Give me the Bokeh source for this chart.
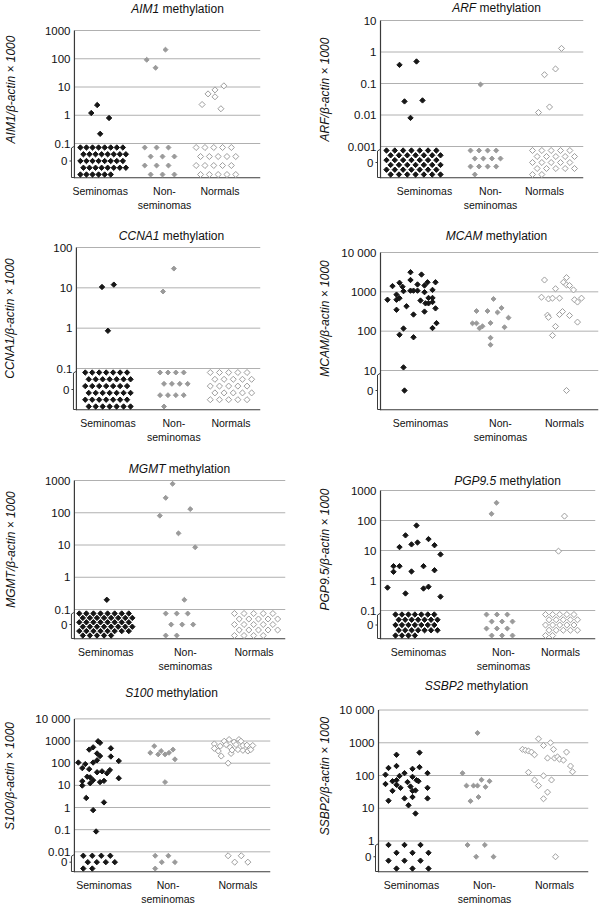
import math
from bokeh.plotting import figure
from bokeh.layouts import column, row
from bokeh.models import Range1d, FixedTicker, CustomJSTickFormatter, Label
from bokeh.embed import file_html
from bokeh.resources import INLINE

FONT = "Liberation Sans"
GROUPS = ["Seminomas", "Non-\nseminomas", "Normals"]

# ---------------- data (gene / beta-actin x 1000), 0 = unmethylated ----------------
AIM1_TICKS = ["1000", "100", "10", "1", "0.1"]
AIM1_SEM = [1.2, 2.3, 0.8, 0.22] + [0] * 38
AIM1_NON = [92, 48, 210] + [0] * 12
AIM1_NORM = [2.4, 5.7, 7.9, 4.5, 1.7, 11] + [0] * 20
AIM1_SEM_DX = [-9, -3, 9, 0]
AIM1_NON_DX = [-18, -9, 1]
AIM1_NORM_DX = [-18, -12, -5, -5, 1, 4]

ARF_TICKS = ["10", "1", "0.1", "0.01", "0.001"]
ARF_SEM = [0.39, 0.5, 0.027, 0.029, 0.0081] + [0] * 42
ARF_NON = [0.093] + [0] * 13
ARF_NORM = [0.012, 0.018, 0.19, 0.29, 1.3] + [0] * 22
ARF_SEM_DX = [-25, -8, -20, -2, -14]
ARF_NON_DX = [-10]
ARF_NORM_DX = [-6, 5, 0, 11, 17]

CCNA1_TICKS = ["100", "10", "1", "0.1"]
CCNA1_SEM = [10.5, 12, 0.86] + [0] * 42
CCNA1_NON = [8.1, 30] + [0] * 13
CCNA1_NORM = [0] * 25
CCNA1_SEM_DX = [-6, 6, 0]
CCNA1_NON_DX = [-11, 0]
CCNA1_NORM_DX = []

MCAM_TICKS = ["10 000", "1000", "100", "10"]
MCAM_SEM = [630, 1400, 850, 630, 350, 1700, 690, 1350, 1040, 81, 117, 430, 3150, 2000,
            1070, 1070, 265, 70, 1540, 1070, 600, 2750, 1450, 980, 315, 510, 1750, 700,
            510, 1120, 700, 550, 120, 1750, 380, 160, 12] + [0]
MCAM_NON = [158, 158, 325, 118, 133, 325, 162, 68, 45, 660, 300, 390, 126, 220]
MCAM_NORM = [730, 2000, 255, 660, 225, 690, 78, 1200, 132, 690, 265, 315, 1750, 2300,
             1500, 1450, 250, 1120, 630, 550, 170, 690] + [0]
MCAM_SEM_DX = [-33, -28, -24, -24, -24, -21, -21, -18, -17, -21, -17, -14, -10, -10, -10,
               -7, -7, -7, -3, -3, 0, 1, 4, 4, 4, 5, 7, 8, 8, 12, 12, 12, 12, 15, 15, 16, -17]
MCAM_NON_DX = [-28, -24, -24, -21, -18, -13, -10, -10, -10, -7, -3, 1, 4, 8]
MCAM_NORM_DX = [-23, -20, -17, -16, -16, -12, -12, -9, -9, -5, -5, -2, -1, 2, 2, 5, 5,
                9, 10, 13, 13, 17]

MGMT_TICKS = ["1000", "100", "10", "1", "0.1"]
MGMT_SEM = [0.2] + [0] * 45
MGMT_NON = [790, 290, 81, 130, 23, 8.5, 0.2] + [0] * 8
MGMT_NORM = [0] * 24
MGMT_SEM_DX = [1]
MGMT_NON_DX = [-13, -20, -26, 5, -7, 10, -1]
MGMT_NORM_DX = []

PGP_TICKS = ["1000", "100", "10", "1", "0.1"]
PGP_SEM = [0.58, 3.0, 1.95, 3.0, 13, 0.37, 32, 16, 2.0, 68, 18.5, 3.0, 0.54, 24, 0.62,
           15, 2.2, 7.4, 0.29] + [0] * 32
PGP_NON = [167, 390] + [0] * 12
PGP_NORM = [9.5, 140] + [0] * 22
PGP_SEM_DX = [-31, -25, -25, -19, -19, -13, -13, -7, -7, -2, -1, 5, 5, 10, 10, 16, 16, 22, 22]
PGP_NON_DX = [-12, -7]
PGP_NORM_DX = [-2, 4]

S100_TICKS = ["10 000", "1000", "100", "10", "1", "0.1", "0.01"]
S100_SEM = [107, 60, 15.5, 9.8, 91, 2.7, 24.5, 410, 54, 23, 12.5, 520, 107, 17, 0.76,
            0.083, 135, 39, 275, 980, 830, 210, 14, 43, 16, 1.7, 35, 49, 470, 200, 126,
            21] + [0] * 10
S100_NON = [590, 295, 250, 355, 250, 295, 410, 150, 14] + [0] * 5
S100_NORM = [740, 465, 355, 590, 210, 980, 690, 1170, 520, 275, 390, 890, 690, 410, 1170,
             980, 380, 630, 650, 355, 410, 630, 100] + [0] * 4
S100_SEM_DX = [-26, -22, -22, -22, -19, -18, -17, -15, -15, -14, -14, -11, -11, -11, -11,
               -8, -7, -7, -7, -6, -4, -4, -4, -2, 0, 0, 3, 6, 7, 7, 15, 15]
S100_NON_DX = [-14, -18, -10, -7, -3, 1, 5, 7, -3]
S100_NORM_DX = [-24, -24, -20, -18, -17, -14, -12, -9, -8, -7, -6, -4, -2, 0, 1, 3, 5, 5,
                9, 10, 13, 15, -10]

SSBP2_TICKS = ["10 000", "1000", "100", "10", "1"]
SSBP2_SEM = [106, 55, 170, 17, 67, 34, 195, 430, 72, 52, 97, 42, 118, 20, 63, 12.3, 46,
             160, 91, 34, 22, 6.9, 35, 72, 67, 500, 180, 118, 42, 20] + [0] * 12
SSBP2_NON = [118, 49, 16.5, 49, 49, 22, 74, 45, 67, 2000] + [0] * 4
SSBP2_NORM = [630, 590, 560, 520, 430, 125, 73, 1320, 49, 830, 98, 19.5, 340, 31, 1000,
              73, 630, 340, 370, 315, 295, 520, 195, 130] + [0]
SSBP2_SEM_DX = [-26, -26, -23, -23, -19, -19, -15, -15, -15, -15, -12, -11, -7, -7, -4, -3,
                -1, 1, 1, 1, 1, 4, 4, 5, 7, 8, 8, 16, 16, 16]
SSBP2_NON_DX = [-22, -18, -14, -11, -7, -6, -3, 1, 5, -7]
SSBP2_NORM_DX = [-32, -29, -26, -23, -20, -26, -20, -16, -16, -11, -11, -11, -7, -7, -4,
                 -3, -1, 0, 3, 5, 9, 12, 16, 18]

PANELS = [
    ("AIM1", AIM1_TICKS, (AIM1_SEM, AIM1_NON, AIM1_NORM), (AIM1_SEM_DX, AIM1_NON_DX, AIM1_NORM_DX)),
    ("ARF", ARF_TICKS, (ARF_SEM, ARF_NON, ARF_NORM), (ARF_SEM_DX, ARF_NON_DX, ARF_NORM_DX)),
    ("CCNA1", CCNA1_TICKS, (CCNA1_SEM, CCNA1_NON, CCNA1_NORM), (CCNA1_SEM_DX, CCNA1_NON_DX, CCNA1_NORM_DX)),
    ("MCAM", MCAM_TICKS, (MCAM_SEM, MCAM_NON, MCAM_NORM), (MCAM_SEM_DX, MCAM_NON_DX, MCAM_NORM_DX)),
    ("MGMT", MGMT_TICKS, (MGMT_SEM, MGMT_NON, MGMT_NORM), (MGMT_SEM_DX, MGMT_NON_DX, MGMT_NORM_DX)),
    ("PGP9.5", PGP_TICKS, (PGP_SEM, PGP_NON, PGP_NORM), (PGP_SEM_DX, PGP_NON_DX, PGP_NORM_DX)),
    ("S100", S100_TICKS, (S100_SEM, S100_NON, S100_NORM), (S100_SEM_DX, S100_NON_DX, S100_NORM_DX)),
    ("SSBP2", SSBP2_TICKS, (SSBP2_SEM, SSBP2_NON, SSBP2_NORM), (SSBP2_SEM_DX, SSBP2_NON_DX, SSBP2_NORM_DX)),
]

# ---------------- layout (page pixels) ----------------
COL_X = [0, 300]
FIG_W = 300
ROW_Y = [0, 220, 445, 675]
ROW_H = [220, 225, 230, 232]
AXPAD = 6  # frame starts this many px left of the drawn y axis line
LAYOUT = {
    # frame: axis x, right, top-tick y, lowest-tick y, bottom ; title centre ; y-label centre x
    "AIM1": dict(c=0, r=0, frame=(72, 260, 30, 143, 178), title=(175, 8), ylab_x=11,
                 cats=(98, 163, 219), zero=[(3, 23, 5), (-5, 15, 4), (-4, 20, 4)]),
    "ARF": dict(c=1, r=0, frame=(380, 583, 20, 146, 178), title=(496, 7), ylab_x=327,
                cats=(424, 490, 544), zero=[(-11, 27, 6), (-5, 15, 4), (9, 21, 5)]),
    "CCNA1": dict(c=0, r=1, frame=(73, 260, 247, 368, 410), title=(168, 235), ylab_x=9,
                  cats=(105, 172, 230), zero=[(0, 23, 6), (0, 14, 4), (0, 21, 6)]),
    "MCAM": dict(c=1, r=1, frame=(380, 598, 252, 370, 410), title=(496, 235), ylab_x=327,
                 cats=(420, 500, 564), zero=[(-16, 0, 1), (0, 0, 1), (2, 0, 1)]),
    "MGMT": dict(c=0, r=2, frame=(70, 285, 480, 609, 639), title=(175, 468), ylab_x=9,
                 cats=(102, 183, 253), zero=[(0, 27, 6), (-6, 14, 3), (2, 22, 5)]),
    "PGP9.5": dict(c=1, r=2, frame=(380, 595, 490, 610, 639), title=(507, 480), ylab_x=327,
                   cats=(418, 503, 560), zero=[(-2, 21, 5), (-4, 13, 4), (1, 16, 5)]),
    "S100": dict(c=0, r=3, frame=(71, 270, 719, 854, 875), title=(168, 695), ylab_x=9,
                 cats=(101, 166, 237), zero=[(-5, 16, 3), (-3, 10, 3), (0, 10, 3)]),
    "SSBP2": dict(c=1, r=3, frame=(378, 588, 710, 843, 875), title=(476, 688), ylab_x=327,
                  cats=(411, 484, 554), zero=[(-3, 20, 4), (-4, 13, 3), (1, 0, 1)]),
}
# plots in one row share their top border: the frame top is set by the higher title
ROW_FTOP = {}
for _g, _L in LAYOUT.items():
    _t = max(ROW_Y[_L["r"]], _L["title"][1] - 9)
    ROW_FTOP[_L["r"]] = min(ROW_FTOP.get(_L["r"], _t), _t)

STYLES = [
    dict(fill_color="#161616", line_color="#161616", size=3.8),
    dict(fill_color="#9a9a9a", line_color="#9a9a9a", size=3.5),
    dict(fill_color="white", line_color="#9d9d9d", size=4.3),
]
GRID_COLOR = "#b0b0b0"
AXIS_COLOR = "#3a3a3a"

W = {'A': 667, 'I': 278, 'M': 833, '1': 556, 'R': 722, 'F': 611, 'C': 722, 'N': 722,
     'G': 778, 'T': 611, 'P': 667, '9': 556, '.': 278, '5': 556, 'S': 667, '0': 556,
     'B': 667, '2': 556, '/': 278, 'β': 575, '-': 333, 'a': 556, 'c': 500, 't': 278,
     'i': 222, 'n': 556, ' ': 278, '×': 584, 'm': 833, 'e': 556, 'h': 556, 'y': 500,
     'l': 222, 'o': 556}


def tw(s, size):
    return sum(W.get(ch, 556) for ch in s) * size / 1000.0


def zero_xy(n, cx, hw, rows, y_top, y_bot):
    xs, ys = [], []
    if n == 0:
        return xs, ys
    rows = max(1, min(rows, n))
    cols = math.ceil(n / rows)
    step = (2 * hw) / (cols - 0.5) if cols > 1 else 0
    k = 0
    for r in range(rows):
        yy = (y_top + y_bot) / 2 if rows == 1 else y_top - r * (y_top - y_bot) / (rows - 1)
        shift = 0.5 if r % 2 else 0.0
        for c in range(cols):
            if k >= n:
                break
            xs.append(cx - hw + (c + shift) * step if cols > 1 else cx)
            ys.append(yy)
            k += 1
    return xs, ys


def make_panel(gene, tick_labels, groups, jitters):
    L = LAYOUT[gene]
    axx, fr, ft, flow, fb = L["frame"]
    tx, ty = L["title"]
    fx0, fy0 = COL_X[L["c"]], ROW_Y[L["r"]]
    fh = ROW_H[L["r"]]
    fl = axx - AXPAD
    ftop = ROW_FTOP[L["r"]]
    tick_vals = [float(t.replace(" ", "")) for t in tick_labels]
    lt, ll = math.log10(tick_vals[0]), math.log10(tick_vals[-1])
    ppd = (flow - ft) / (lt - ll)
    y_end = lt + (ft - ftop) / ppd
    y_start = ll - (fb - flow) / ppd
    y_zero = (ll + y_start) / 2
    width = fr - fl
    px = 1.0 / ppd  # one pixel in y data units

    p = figure(width=FIG_W, height=fh, output_backend="svg", toolbar_location=None,
               tools="", x_range=Range1d(0, width), y_range=Range1d(y_start, y_end),
               min_border_left=fl - fx0, min_border_right=fx0 + FIG_W - fr,
               min_border_top=ftop - fy0, min_border_bottom=fy0 + fh - fb)
    p.outline_line_color = None
    p.background_fill_color = "white"
    p.border_fill_color = "white"
    p.grid.grid_line_color = None

    # y axis (ticks / labels from Bokeh, line drawn at AXPAD inside the frame)
    yt = [math.log10(v) for v in tick_vals] + [y_zero]
    yl = list(tick_labels) + ["0\u00a0"]
    p.yaxis.ticker = FixedTicker(ticks=yt)
    p.yaxis.formatter = CustomJSTickFormatter(args=dict(vals=yt, labs=yl), code="""
        for (let i = 0; i < vals.length; i++) {
            if (Math.abs(vals[i] - tick) < 1e-6) return labs[i];
        }
        return "";""")
    p.yaxis.axis_line_color = None
    p.yaxis.major_tick_line_color = None
    p.yaxis.minor_tick_line_color = None
    p.yaxis.major_tick_out = 0
    p.yaxis.major_tick_in = 0
    p.yaxis.major_label_standoff = 4 - AXPAD
    p.yaxis.major_label_text_font = FONT
    p.yaxis.major_label_text_font_size = "11.5px"
    p.yaxis.major_label_text_color = "#111111"
    wmax = max(tw(t, 11.5) for t in tick_labels)
    p.yaxis.axis_label = gene + "/β-actin × 1000"
    p.yaxis.axis_label_text_font = FONT
    p.yaxis.axis_label_text_font_size = "12px"
    p.yaxis.axis_label_text_font_style = "italic"
    p.yaxis.axis_label_text_color = "#111111"
    label_right = L["ylab_x"] + 7
    p.yaxis.axis_label_standoff = int(max(2, (fl + AXPAD - 4 - wmax) - label_right))

    # x axis
    xt = [c - fl for c in L["cats"]]
    p.xaxis.ticker = FixedTicker(ticks=xt)
    p.xaxis.formatter = CustomJSTickFormatter(args=dict(vals=xt, labs=GROUPS), code="""
        for (let i = 0; i < vals.length; i++) {
            if (Math.abs(vals[i] - tick) < 1e-6) return labs[i];
        }
        return "";""")
    p.xaxis.axis_line_color = None
    p.xaxis.major_tick_line_color = None
    p.xaxis.minor_tick_line_color = None
    p.xaxis.major_tick_out = 0
    p.xaxis.major_tick_in = 0
    p.xaxis.major_label_standoff = 6
    p.xaxis.major_label_text_font = FONT
    p.xaxis.major_label_text_font_size = "10.5px"
    p.xaxis.major_label_text_color = "#111111"

    # horizontal grid lines at the decade ticks, from the axis to the right edge
    gy = [math.log10(v) for v in tick_vals]
    p.segment(x0=[AXPAD] * len(gy), x1=[width] * len(gy), y0=gy, y1=gy,
              line_color=GRID_COLOR, line_width=1)
    # axis lines
    p.segment(x0=[AXPAD], x1=[AXPAD], y0=[y_start], y1=[lt], line_color=AXIS_COLOR, line_width=1.2)
    p.segment(x0=[AXPAD], x1=[width], y0=[y_start + 0.6 * px], y1=[y_start + 0.6 * px],
              line_color=AXIS_COLOR, line_width=1.2)
    # bracket for the "0" band
    bx = AXPAD - 3.0
    p.line(x=[AXPAD - 0.5, bx, bx, AXPAD - 0.5],
           y=[ll - 3 * px, ll - 4.5 * px, y_start + 1 * px, y_start + 1 * px],
           line_color=AXIS_COLOR, line_width=1)
    p.segment(x0=[bx], x1=[bx - 2.0], y0=[y_zero], y1=[y_zero], line_color=AXIS_COLOR, line_width=1)

    # points
    pad = 4.0 * px
    for gi, (vals, dxs) in enumerate(zip(groups, jitters)):
        cx = xt[gi]
        pos = [v for v in vals if v > 0]
        n0 = sum(1 for v in vals if v == 0)
        xs = [cx + d for d in dxs]
        ys = [math.log10(v) for v in pos]
        zdx, zhw, zrows = L["zero"][gi]
        zx, zy = zero_xy(n0, cx + zdx, zhw, zrows, ll - pad, y_start + pad)
        st = STYLES[gi]
        p.scatter(xs + zx, ys + zy, marker="square", angle=math.pi / 4,
                  size=st["size"], fill_color=st["fill_color"],
                  line_color=st["line_color"], line_width=1)

    # title inside the (extended) frame: italic gene + "methylation"
    t1, t2 = gene, "methylation"
    w1, wsp, w2 = tw(t1, 12), tw(" ", 12), tw(t2, 12)
    sx = tx - (w1 + wsp + w2) / 2 - fl
    sy = fb - ty
    p.add_layout(Label(x=sx, y=sy, x_units="screen", y_units="screen", text=t1,
                       text_font=FONT, text_font_size="12px", text_font_style="italic",
                       text_align="left", text_baseline="middle", text_color="#111111"))
    p.add_layout(Label(x=sx + w1 + wsp, y=sy, x_units="screen", y_units="screen", text=t2,
                       text_font=FONT, text_font_size="12px", text_font_style="normal",
                       text_align="left", text_baseline="middle", text_color="#111111"))
    return p


figs = {gene: make_panel(gene, ticks, groups, jit) for gene, ticks, groups, jit in PANELS}
layout = column(
    row(figs["AIM1"], figs["ARF"]),
    row(figs["CCNA1"], figs["MCAM"]),
    row(figs["MGMT"], figs["PGP9.5"]),
    row(figs["S100"], figs["SSBP2"]),
)

open("out.html", "w").write(file_html(layout, INLINE))
